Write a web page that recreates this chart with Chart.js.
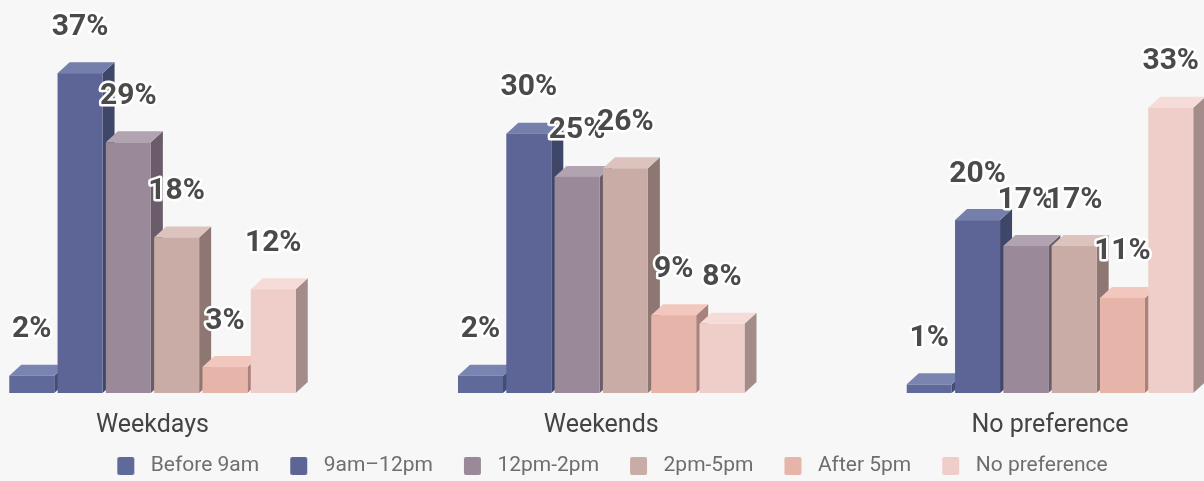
<!DOCTYPE html>
<html>
<head>
<meta charset="utf-8">
<script src="https://cdn.jsdelivr.net/npm/chart.js@4.4.0/dist/chart.umd.min.js"></script>
<style>
  html, body { margin: 0; padding: 0; background: #f7f7f8; }
  canvas { display: block; }
</style>
</head>
<body>
<canvas id="chart" width="1204" height="481"></canvas>
<script>
// Preferred time slots, share of respondents (%)
const categories = ['Weekdays', 'Weekends', 'No preference'];
const seriesNames = ['Before 9am', '9am–12pm', '12pm-2pm', '2pm-5pm', 'After 5pm', 'No preference'];
const before9am    = [2, 2, 1];
const am9to12pm    = [37, 30, 20];
const pm12to2pm    = [29, 25, 17];
const pm2to5pm     = [18, 26, 17];
const after5pm     = [3, 9, 11];
const noPreference = [12, 8, 33];

// Face colours for the extruded bars
const frontColors = ['#5f699a', '#5c6596', '#9a8a99', '#c9aca6', '#e7b4a9', '#efcdc8'];
const topColors   = ['#7a84b0', '#757fac', '#b2a3b0', '#dcc3bd', '#f2c8be', '#f6dcd8'];
const sideColors  = ['#454d75', '#3f4769', '#6a5c69', '#8e7773', '#a8837b', '#a38c89'];

const seriesValues = [before9am, am9to12pm, pm12to2pm, pm2to5pm, after5pm, noPreference];

const DEPTH_X = 12;
const DEPTH_Y = 11;

// Legend swatch: square set to the right inside a wider transparent box
function legendSwatch(color) {
  const cv = document.createElement('canvas');
  cv.width = 44; cv.height = 18;
  const g = cv.getContext('2d');
  g.fillStyle = color;
  g.beginPath();
  if (g.roundRect) g.roundRect(21, 0, 17, 18, 2); else g.rect(21, 0, 17, 18);
  g.fill();
  return cv;
}
const swatches = frontColors.map(legendSwatch);

function poly(ctx, pts, color) {
  ctx.beginPath();
  ctx.moveTo(pts[0][0], pts[0][1]);
  for (let i = 1; i < pts.length; i++) ctx.lineTo(pts[i][0], pts[i][1]);
  ctx.closePath();
  ctx.fillStyle = color;
  ctx.fill();
}

const bars3d = {
  id: 'bars3d',
  beforeDatasetsDraw(chart) {
    const ctx = chart.ctx;
    ctx.save();
    chart.data.datasets.forEach((ds, di) => {
      const meta = chart.getDatasetMeta(di);
      meta.data.forEach((el) => {
        const { x, y, base, width } = el.getProps(['x', 'y', 'base', 'width'], true);
        const L = x - width / 2, R = x + width / 2;
        poly(ctx, [[R, y], [R + DEPTH_X, y - DEPTH_Y], [R + DEPTH_X, base - DEPTH_Y], [R, base]], sideColors[di]);
        poly(ctx, [[L, y], [L + DEPTH_X, y - DEPTH_Y], [R + DEPTH_X, y - DEPTH_Y], [R, y]], topColors[di]);
        ctx.fillStyle = frontColors[di];
        ctx.fillRect(L, y, width, base - y);
      });
    });
    // value labels
    ctx.font = 'bold 30px Roboto';
    ctx.textAlign = 'center';
    ctx.textBaseline = 'middle';
    ctx.lineJoin = 'round';
    chart.data.datasets.forEach((ds, di) => {
      const meta = chart.getDatasetMeta(di);
      meta.data.forEach((el, i) => {
        const txt = ds.data[i] + '%';
        const ty = el.y - 46;
        ctx.strokeStyle = '#ffffff';
        ctx.lineWidth = 5;
        ctx.strokeText(txt, el.x, ty);
        ctx.fillStyle = '#4a4a4a';
        ctx.fillText(txt, el.x, ty);
      });
    });
    ctx.restore();
    return false;
  }
};

// invisible side axes reserve the margins around the plot
const hiddenAxis = (pos, w) => ({
  type: 'linear',
  position: pos,
  display: true,
  min: 0,
  max: 45,
  grid: { display: false, drawTicks: false },
  border: { display: false },
  ticks: { display: false },
  afterFit(scale) { scale.width = w; }
});

new Chart(document.getElementById('chart'), {
  type: 'bar',
  data: {
    labels: categories,
    datasets: seriesNames.map((name, i) => ({
      label: name,
      data: seriesValues[i],
      backgroundColor: frontColors[i],
      categoryPercentage: 0.6458,
      barPercentage: 0.9317
    }))
  },
  options: {
    responsive: false,
    animation: false,
    devicePixelRatio: 1,
    layout: { padding: { top: 4, left: 0, right: 0, bottom: 0 } },
    scales: {
      x: {
        type: 'category',
        offset: false,
        grid: { display: false, drawTicks: false },
        border: { display: false },
        ticks: {
          font: { family: 'Roboto', size: 25 },
          color: '#444444',
          padding: 18,
          maxRotation: 0,
          autoSkip: false
        },
        afterFit(scale) { scale.height = 52.5; }
      },
      y: hiddenAxis('left', 152.5),
      yRight: hiddenAxis('right', 154)
    },
    plugins: {
      tooltip: { enabled: false },
      legend: {
        position: 'bottom',
        maxHeight: 35.5,
        labels: {
          font: { family: 'Roboto', size: 21 },
          color: '#6e6e6e',
          padding: 10,
          usePointStyle: true,
          pointStyleWidth: 44,
          boxHeight: 18,
          generateLabels(chart) {
            const items = Chart.defaults.plugins.legend.labels.generateLabels(chart);
            return items.map((it) => Object.assign(it, { pointStyle: swatches[it.datasetIndex], lineWidth: 0 }));
          }
        }
      }
    }
  },
  plugins: [bars3d]
});
</script>
</body>
</html>
